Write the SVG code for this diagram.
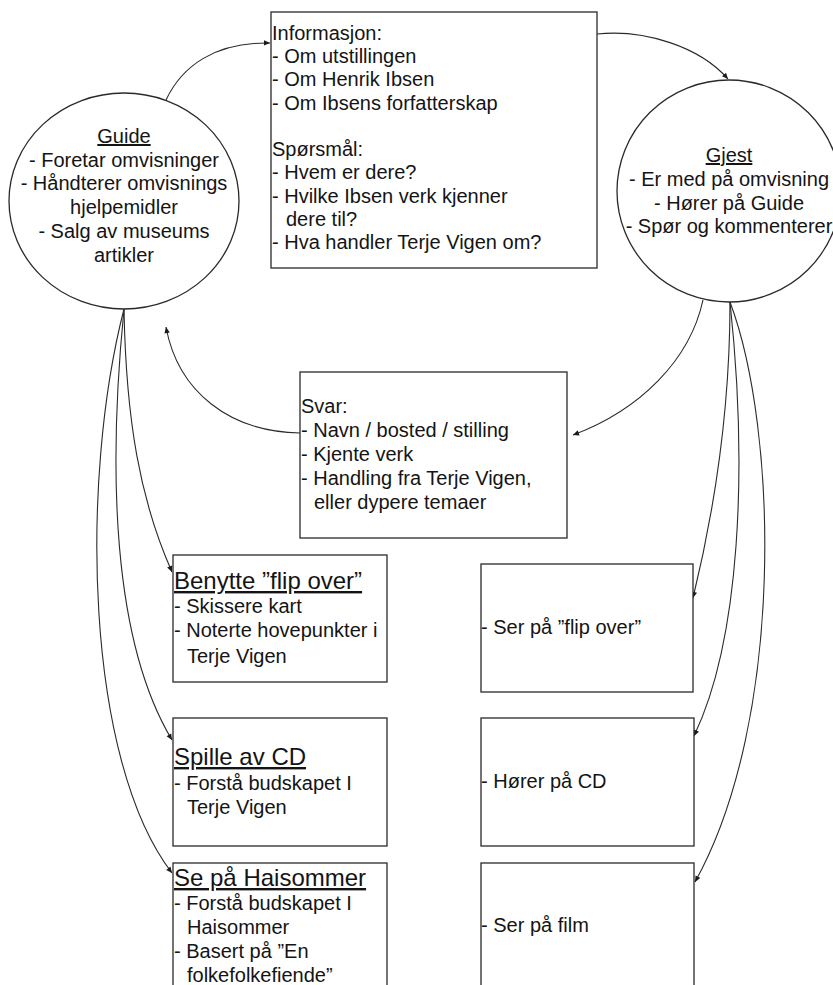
<svg xmlns="http://www.w3.org/2000/svg" width="833" height="985" viewBox="0 0 833 985">
  <style>
    .bg { fill: #ffffff; }
    .shape { fill: #ffffff; stroke: #2a2a2a; stroke-width: 1.3; }
    .edge { fill: none; stroke: #2a2a2a; stroke-width: 1.1; marker-end: url(#arrow); }
    text { font-family: "Liberation Sans", Arial, sans-serif; font-size: 20px; fill: #141414; }
    .title { font-size: 24px; text-decoration: underline; }
    .head { text-decoration: underline; }
    .mid { text-anchor: middle; }
  </style>
  <defs>
    <marker id="arrow" viewBox="0 0 10 10" refX="10" refY="5" markerWidth="8" markerHeight="6" markerUnits="userSpaceOnUse" orient="auto">
      <path d="M0,0.5 L10,5 L0,9.5 z" fill="#1a1a1a"/>
    </marker>
  </defs>

  <rect class="bg" x="0" y="0" width="833" height="985"/>

  <!-- connectors -->
  <g id="connectors">
    <path class="edge" d="M166,100 C182,66 215,42 270,43"/>
    <path class="edge" d="M597,34 C645,29 700,47 728,79"/>
    <path class="edge" d="M703,300 C690,360 640,410 573,435"/>
    <path class="edge" d="M300,433 C230,432 178,392 166,327"/>
    <path class="edge" d="M124,309 C126,420 140,500 172,572"/>
    <path class="edge" d="M124,309 C108,470 112,640 172,740"/>
    <path class="edge" d="M124,309 C80,480 85,760 172,873"/>
    <path class="edge" d="M730,302 C730,420 712,520 693,598"/>
    <path class="edge" d="M730,302 C748,470 740,640 694,736"/>
    <path class="edge" d="M730,302 C778,430 785,720 695,882"/>
  </g>

  <!-- Guide -->
  <g id="guide">
    <ellipse class="shape" cx="124" cy="201" rx="115" ry="108"/>
    <text class="mid head" x="124" y="143">Guide</text>
    <text class="mid" x="124" y="166.5">- Foretar omvisninger</text>
    <text class="mid" x="124" y="190">- Håndterer omvisnings</text>
    <text class="mid" x="124" y="214">hjelpemidler</text>
    <text class="mid" x="124" y="238">- Salg av museums</text>
    <text class="mid" x="124" y="262">artikler</text>
  </g>

  <!-- Informasjon / Spørsmål -->
  <g id="info">
    <rect class="shape" x="271" y="12" width="326" height="256"/>
    <text x="272" y="40">Informasjon:</text>
    <text x="272" y="63">- Om utstillingen</text>
    <text x="272" y="86">- Om Henrik Ibsen</text>
    <text x="272" y="110">- Om Ibsens forfatterskap</text>
    <text x="272" y="156">Spørsmål:</text>
    <text x="272" y="179">- Hvem er dere?</text>
    <text x="272" y="203">- Hvilke Ibsen verk kjenner</text>
    <text x="286" y="226">dere til?</text>
    <text x="272" y="249">- Hva handler Terje Vigen om?</text>
  </g>

  <!-- Gjest -->
  <g id="gjest">
    <ellipse class="shape" cx="729" cy="191" rx="112" ry="111"/>
    <text class="mid head" x="729" y="162">Gjest</text>
    <text class="mid" x="729" y="186">- Er med på omvisning</text>
    <text class="mid" x="729" y="209.5">- Hører på Guide</text>
    <text class="mid" x="729" y="233">- Spør og kommenterer</text>
  </g>

  <!-- Svar -->
  <g id="svar">
    <rect class="shape" x="300" y="372" width="267" height="166"/>
    <text x="301" y="413">Svar:</text>
    <text x="301" y="437">- Navn / bosted / stilling</text>
    <text x="301" y="461">- Kjente verk</text>
    <text x="301" y="485">- Handling fra Terje Vigen,</text>
    <text x="314" y="509">eller dypere temaer</text>
  </g>

  <!-- Guide activities -->
  <g id="flipover">
    <rect class="shape" x="173" y="555" width="214" height="127"/>
    <text class="title" x="174" y="589">Benytte ”flip over”</text>
    <text x="174" y="613">- Skissere kart</text>
    <text x="174" y="637">- Noterte hovepunkter i</text>
    <text x="187" y="663">Terje Vigen</text>
  </g>

  <g id="cd">
    <rect class="shape" x="173" y="718" width="214" height="128"/>
    <text class="title" x="174" y="765">Spille av CD</text>
    <text x="174" y="790">- Forstå budskapet I</text>
    <text x="187" y="814">Terje Vigen</text>
  </g>

  <g id="haisommer">
    <rect class="shape" x="173" y="863" width="214" height="130"/>
    <text class="title" x="174" y="886">Se på Haisommer</text>
    <text x="174" y="910">- Forstå budskapet I</text>
    <text x="187" y="934">Haisommer</text>
    <text x="174" y="958">- Basert på ”En</text>
    <text x="187" y="982">folkefolkefiende”</text>
  </g>

  <!-- Guest activities -->
  <g id="ser-flipover">
    <rect class="shape" x="481" y="564" width="212" height="128"/>
    <text x="481" y="634">- Ser på ”flip over”</text>
  </g>

  <g id="horer-cd">
    <rect class="shape" x="481" y="718" width="213" height="128"/>
    <text x="481" y="788">- Hører på CD</text>
  </g>

  <g id="ser-film">
    <rect class="shape" x="481" y="863" width="213" height="130"/>
    <text x="481" y="932">- Ser på film</text>
  </g>
</svg>
